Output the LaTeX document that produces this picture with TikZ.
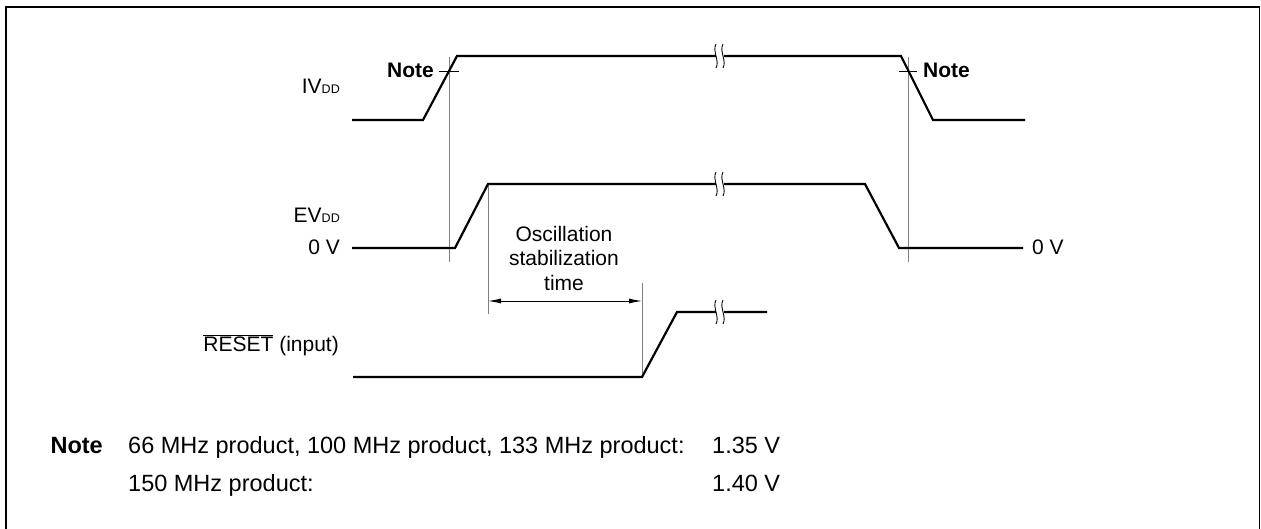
\documentclass[tikz,border=0pt]{standalone}
\usepackage{fontspec}
\setmainfont{Liberation Sans}
\usetikzlibrary{arrows.meta}

\begin{document}
\begin{tikzpicture}[x=1pt, y=-1pt,
    wave/.style={line width=2.2pt, line join=miter},
    guide/.style={draw=gray, line width=0.9pt},
    tickline/.style={line width=1pt},
    brkline/.style={line width=0.9pt},
    dimarrow/.style={{Latex[length=13pt,width=5pt]}-{Latex[length=13pt,width=5pt]}, line width=0.9pt},
    lbl/.style={font=\fontsize{21}{24.5}\selectfont, inner sep=0pt},
    notetxt/.style={font=\fontsize{23.5}{28}\selectfont, inner sep=0pt}
]
\useasboundingbox (0,0) rectangle (1261,529);
\draw[line width=1.8pt] (6,529) -- (6,7) -- (1259.5,7) -- (1259.5,529);

% waveforms
\coordinate (i0) at (352,120); \coordinate (i1) at (423,120);
\coordinate (i2) at (457,56);  \coordinate (i3) at (901,56);
\coordinate (i4) at (933,120); \coordinate (i5) at (1025,120);
\coordinate (e0) at (352,248); \coordinate (e1) at (455,248);
\coordinate (e2) at (488,184); \coordinate (e3) at (865,184);
\coordinate (e4) at (899,248); \coordinate (e5) at (1023,248);
\coordinate (r0) at (353,377); \coordinate (r1) at (642,377);
\coordinate (r2) at (677,312); \coordinate (r3) at (767,312);

% guide lines
\coordinate (gltop) at (449,57); \coordinate (glbot) at (449,262);
\coordinate (grtop) at (908,57); \coordinate (grbot) at (908,262);
\coordinate (dlbot) at (488,314); \coordinate (drtop) at (642,283);
\coordinate (al) at (488,301); \coordinate (ar) at (642,301);
\draw[guide] (gltop) -- (glbot);
\draw[guide] (grtop) -- (grbot);
\draw[guide] (e2) -- (dlbot);
\draw[guide] (drtop) -- (r1);
\draw[dimarrow] (al) -- (ar);

\draw[wave] (i0) -- (i1) -- (i2) -- (i3) -- (i4) -- (i5);
\draw[wave] (e0) -- (e1) -- (e2) -- (e3) -- (e4) -- (e5);
\draw[wave] (r0) -- (r1) -- (r2) -- (r3);

% breaks
\foreach \y in {56,184,312} {
  \fill[white] (715.5,\y-3) rectangle (723.5,\y+3);
  \draw[brkline] (716,\y-12) .. controls (712,\y-5) and (720,\y+5) .. (716,\y+12);
  \draw[brkline] (723,\y-12) .. controls (719,\y-5) and (727,\y+5) .. (723,\y+12);
}

% note marks
\coordinate (tl0) at (439,72); \coordinate (tl1) at (459,72);
\coordinate (tr0) at (899,72); \coordinate (tr1) at (917,72);
\draw[tickline] (tl0) -- (tl1);
\draw[tickline] (tr0) -- (tr1);
\node[lbl, anchor=base east, font=\fontsize{21}{24.5}\selectfont\bfseries] (noteL) at (434,78) {Note};
\node[lbl, anchor=base west, font=\fontsize{21}{24.5}\selectfont\bfseries] (noteR) at (923,78) {Note};

% signal labels
\node[lbl, anchor=base east] (ivdd) at (340,94) {IV{\fontsize{12.5}{12.5}\selectfont DD}};
\node[lbl, anchor=base east] (evdd) at (340,223) {EV{\fontsize{12.5}{12.5}\selectfont DD}};
\node[lbl, anchor=base east] (zeroL) at (340,255) {0 V};
\node[lbl, anchor=base west] (zeroR) at (1032,255) {0 V};
\node[lbl, anchor=base east] (reset) at (339,351) {$\overline{\mbox{RESET}}$ (input)};
\node[lbl, anchor=north, align=center] (osc) at (564,226) {Oscillation\\stabilization\\time};

% note text
\node[notetxt, anchor=base east, font=\fontsize{23.5}{28}\selectfont\bfseries] (notehead) at (103,453) {Note};
\node[notetxt, anchor=base west] (note1) at (128,453) {66 MHz product, 100 MHz product, 133 MHz product:};
\node[notetxt, anchor=base west] (volt1) at (712,453) {1.35 V};
\node[notetxt, anchor=base west] (note2) at (128,491) {150 MHz product:};
\node[notetxt, anchor=base west] (volt2) at (712,491) {1.40 V};
\end{tikzpicture}
\end{document}
